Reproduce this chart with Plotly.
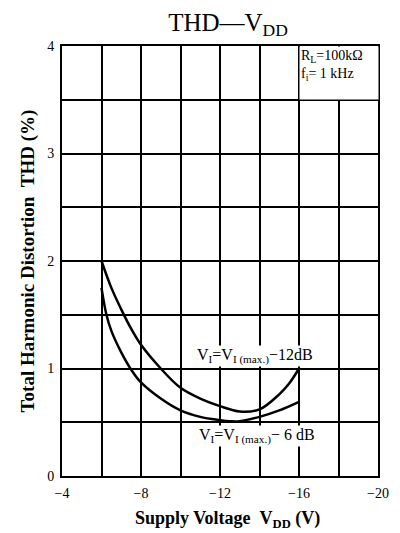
import plotly.graph_objects as go

# Data
vdd_12db = [-6, -6.5, -7, -7.5, -8, -9, -10, -11, -12, -13, -14, -15, -15.5, -16]
thd_12db = [2.0, 1.75, 1.55, 1.37, 1.22, 1.0, 0.82, 0.72, 0.65, 0.6, 0.62, 0.76, 0.86, 1.0]

vdd_6db = [-6, -6.25, -6.5, -7, -7.5, -8, -9, -10, -11, -12, -12.5, -13, -14, -15, -16]
thd_6db = [1.75, 1.5, 1.35, 1.15, 0.99, 0.87, 0.72, 0.61, 0.55, 0.52, 0.51, 0.51, 0.55, 0.61, 0.69]

x_tickvals = [-4, -6, -8, -10, -12, -14, -16, -18, -20]
x_ticktext = ["−4", "", "−8", "", "−12", "", "−16", "", "−20"]
y_tickvals = [0, 0.5, 1, 1.5, 2, 2.5, 3, 3.5, 4]
y_ticktext = ["0", "", "1", "", "2", "", "3", "", "4"]

FONT = "Liberation Serif, Times New Roman, serif"

fig = go.Figure()
fig.add_trace(go.Scatter(x=vdd_12db, y=thd_12db, mode="lines",
                         line=dict(color="black", width=2.5, shape="spline", smoothing=1.0),
                         showlegend=False, hoverinfo="skip"))
fig.add_trace(go.Scatter(x=vdd_6db, y=thd_6db, mode="lines",
                         line=dict(color="black", width=2.5, shape="spline", smoothing=1.0),
                         showlegend=False, hoverinfo="skip"))

axis_common = dict(showgrid=True, gridcolor="black", gridwidth=2,
                   showline=True, linecolor="black", linewidth=2, mirror=True,
                   zeroline=False, ticks="outside", ticklen=3, tickcolor="white",
                   ticklabeloverflow="allow",
                   tickfont=dict(family=FONT, size=14, color="black"))

fig.update_xaxes(range=[-4, -20], tickvals=x_tickvals, ticktext=x_ticktext, **axis_common)
fig.update_yaxes(range=[0, 4], tickvals=y_tickvals, ticktext=y_ticktext,
                 title=dict(text="<b>Total Harmonic Distortion&nbsp;&nbsp;THD (%)</b>",
                            font=dict(family=FONT, size=19, color="black"), standoff=8),
                 **axis_common)

# x-axis title (placed as annotation to match the reference's offset)
fig.add_annotation(x=0.523, y=-0.102, xref="paper", yref="paper",
                   text="<b>Supply Voltage&nbsp;&nbsp;V<sub>DD</sub> (V)</b>",
                   showarrow=False, xanchor="center", yanchor="middle",
                   font=dict(family=FONT, size=18, color="black"))

# white condition box over the top-right grid cell
fig.add_annotation(x=-18, y=3.75, xref="x", yref="y",
                   text="R<sub>L</sub>=100kΩ<br>f<sub>i</sub>= 1 kHz",
                   showarrow=False, bgcolor="white", width=76, height=50,
                   align="left", valign="top",
                   xanchor="center", yanchor="middle",
                   font=dict(family=FONT, size=14, color="black"))

fig.add_annotation(x=-13.75, y=1.12, xref="x", yref="y",
                   text="V<sub>I</sub>=V<sub>I (max.)</sub>−12dB",
                   showarrow=False, bgcolor="white", borderpad=0,
                   font=dict(family=FONT, size=16, color="black"))
fig.add_annotation(x=-13.85, y=0.37, xref="x", yref="y",
                   text="V<sub>I</sub>=V<sub>I (max.)</sub>− 6 dB",
                   showarrow=False, bgcolor="white", borderpad=0,
                   font=dict(family=FONT, size=16, color="black"))

fig.update_layout(
    width=400, height=533,
    margin=dict(l=62, r=11, t=46, b=57),
    paper_bgcolor="white", plot_bgcolor="white",
    title=dict(text="THD—V<sub>DD</sub>", x=0.57, xanchor="center", y=0.959, yanchor="middle",
               font=dict(family=FONT, size=25, color="black")),
)

fig.write_html("out.html", config={"displayModeBar": False},
               post_script="document.body.style.margin='0';document.body.style.overflow='hidden';")
